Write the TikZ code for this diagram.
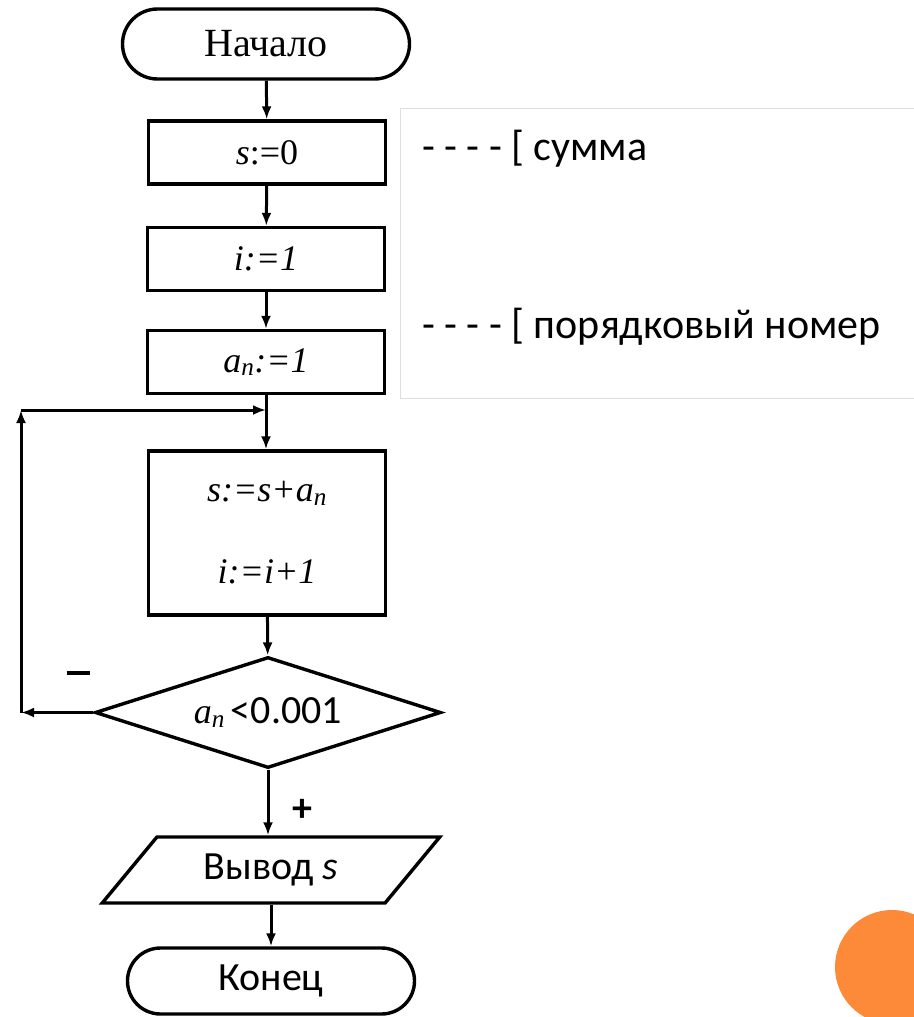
\documentclass[tikz,border=0pt]{standalone}
\usepackage{fontspec}
\setmainfont{Liberation Serif}
\newfontfamily\calib{Carlito}
\usetikzlibrary{shapes.geometric,shapes.misc,arrows.meta}
\definecolor{orangedot}{RGB}{253,138,56}
\definecolor{framegray}{RGB}{222,222,222}
\begin{document}
\begin{tikzpicture}[x=1pt,y=-1pt,
  every node/.style={inner sep=0pt},
  shp/.style={draw,line width=3.4pt,fill=white},
  term/.style={shp,rounded rectangle,minimum width=287pt,minimum height=70pt},
  proc/.style={shp,rectangle,minimum width=237pt,minimum height=63pt},
  dec/.style={shp,diamond,minimum width=346pt,minimum height=111pt,aspect=3.1},
  io/.style={shp,trapezium,trapezium left angle=45,trapezium right angle=135,
    trapezium stretches=true,minimum width=338pt,minimum height=66pt},
  arr/.style={line width=3pt,-{Latex[length=13pt,width=10pt]}},
  serif/.style={font=\fontsize{36}{40}\selectfont},
  sans/.style={font=\calib\fontsize{40}{44}\selectfont},
  legend/.style={font=\calib\fontsize{42}{46}\selectfont,anchor=base west},
]
\path[use as bounding box] (0,0) rectangle (913,1017);
\fill[white] (0,0) rectangle (913,1017);

% legend frame and the decorative dot
\draw[line width=1pt,framegray] (400,108) rectangle (940,398);
\fill[orangedot] (892,967) circle (57);

% flowchart blocks
\node[term,font=\fontsize{40}{44}\selectfont] (start) at (266,44) {Начало};
\node[proc,serif] (s0) at (267,152.5) {\textit{s}:=0};
\node[proc,serif] (i1) at (266,259) {\textit{i:=1}};
\node[proc,serif] (a1) at (266,362) {\textit{a\textsubscript{n}:=1}};
\node[proc,serif,minimum height=164pt,align=center] (body) at (267,533)
  {\textit{s:=s+a\textsubscript{n}}\\[42pt]\textit{i:=i+1}};
\node[dec] (cond) at (268,712.5)
  {\fontsize{36}{40}\selectfont\textit{a\textsubscript{n}}\,{\calib\fontsize{40}{44}\selectfont <0.001}};
\node[io,sans] (out) at (271,870) {Вывод \textit{s}};
\node[term,sans,minimum height=66pt] (end) at (271,981) {Конец};

% branch labels
\node (minus) at (78,673) {\rule{23pt}{3.6pt}};
\node[sans,font=\calib\bfseries\fontsize{40}{44}\selectfont] (plus) at (302,810) {+};

% legend entries
\node[legend] (l1) at (422,160) {- - - - [ сумма};
\node[legend] (l2) at (422,338) {- - - - [ порядковый номер};

% connectors
\coordinate (lb) at (21,712.5);
\coordinate (lt) at (21,410);
\coordinate (lj) at (266,410);
\draw[arr] (start) -- (s0);
\draw[arr] (s0) -- (i1);
\draw[arr] (i1) -- (a1);
\draw[arr] (a1.south) -- (a1.south |- body.north);
\draw[arr] (body) -- (cond);
\draw[arr] (cond.south) -- (cond.south |- out.north);
\draw[arr] (out.south -| end.north) -- (end.north);
\draw[arr] (cond.west) -- (lb);
\draw[arr] (lb) -- (lt);
\draw[arr] (lt) -- (lj);
\end{tikzpicture}
\end{document}
